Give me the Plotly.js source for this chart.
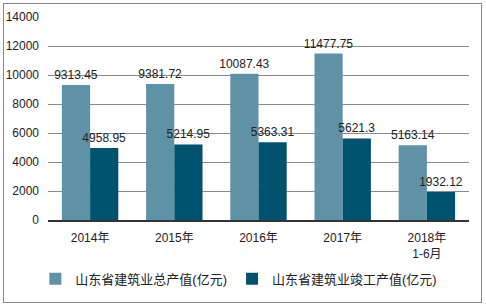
<!DOCTYPE html>
<html><head><meta charset="utf-8">
<script src="https://cdn.plot.ly/plotly-3.0.1.min.js"></script>
<style>
body{margin:0;padding:0;background:#fff;}
#wrap{position:relative;width:486px;height:306px;}
#chart{position:absolute;left:0;top:0;width:486px;height:306px;}
#frame{position:absolute;left:3px;top:3px;width:477px;height:298px;border:1px solid #8a8a8a;pointer-events:none;}
</style></head>
<body>
<div id="wrap"><div id="chart"></div><div id="frame"></div></div>
<script>
const categories = ["2014年","2015年","2016年","2017年","2018年<br>1-6月"];
const totalOutput = [9313.45, 9381.72, 10087.43, 11477.75, 5163.14];
const completedOutput = [4958.95, 5214.95, 5363.31, 5621.3, 1932.12];
const seriesNames = ["山东省建筑业总产值(亿元)", "山东省建筑业竣工产值(亿元)"];
const yTicks = [0, 2000, 4000, 6000, 8000, 10000, 12000, 14000];

const fontFam = "Liberation Sans, Arial, Noto Sans CJK SC, sans-serif";
const traces = [
  {type:'bar', x:categories, y:totalOutput, name:seriesNames[0],
   marker:{color:'#5f91a7'}, text:totalOutput.map(String), textposition:'outside',
   textfont:{size:12,color:'#222',family:fontFam}, cliponaxis:false, constraintext:'none', hoverinfo:'none'},
  {type:'bar', x:categories, y:completedOutput, name:seriesNames[1],
   marker:{color:'#00536f'}, text:completedOutput.map(String), textposition:'outside',
   textfont:{size:12,color:'#222',family:fontFam}, cliponaxis:false, constraintext:'none', hoverinfo:'none'}
];
const layout = {
  width:486, height:306,
  margin:{l:48, r:17, t:17, b:82},
  paper_bgcolor:'rgba(0,0,0,0)', plot_bgcolor:'#fff',
  barmode:'group', bargap:0.33, bargroupgap:0,
  font:{family:fontFam, size:12, color:'#222'},
  xaxis:{type:'category', automargin:false, showline:true, linecolor:'#333', linewidth:1.5, ticks:'', tickfont:{size:12,color:'#222'}, showgrid:false, ticklabelstandoff:6},
  yaxis:{range:[0,14000], automargin:false, tickvals:yTicks, ticktext:yTicks.map(String), showgrid:true, gridcolor:'#8c8c8c', gridwidth:1, zeroline:false, showline:false, ticks:'', tickfont:{size:12,color:'#222'}, ticklabelstandoff:8},
  legend:{orientation:'h', x:-0.03, y:-0.29, xanchor:'left', yanchor:'middle', font:{size:13,color:'#222'}, itemwidth:30, traceorder:'normal'},
  showlegend:true
};
Plotly.newPlot('chart', traces, layout, {displayModeBar:false, staticPlot:true});
</script>
</body></html>
